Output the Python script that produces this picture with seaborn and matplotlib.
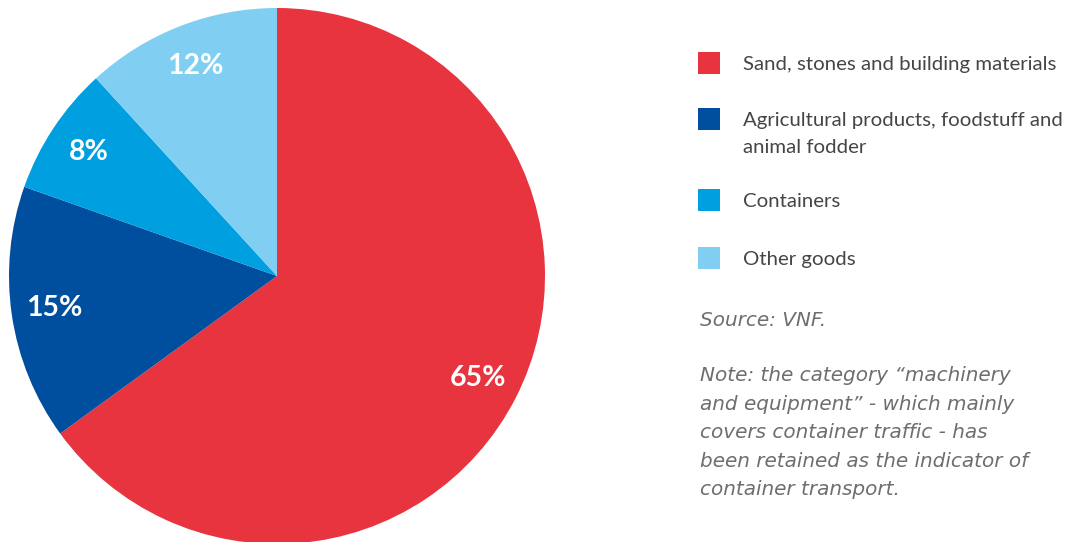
import matplotlib.pyplot as plt
import matplotlib.patches as mpatches
import seaborn as sns

categories = ["Sand, stones and building materials",
              "Agricultural products, foodstuff and\nanimal fodder",
              "Containers",
              "Other goods"]
shares = [65.0, 15.4, 7.8, 11.8]
colors = ["#E7343F", "#004F9E", "#009FE0", "#80CFF3"]

source_text = "Source: VNF."
note_text = ("Note: the category \u201cmachinery\n"
             "and equipment\u201d - which mainly\n"
             "covers container traffic - has\n"
             "been retained as the indicator of\n"
             "container transport.")

sns.set_theme(style="white")
plt.rcParams['font.family'] = ['Lato', 'DejaVu Sans']

W, H = 1076, 542
fig = plt.figure(figsize=(W / 100, H / 100), dpi=100)

# pie axes: centre (277, 276), radius 268 px
cx, cy, r = 277, 276, 268
ax = fig.add_axes([(cx - r) / W, (H - cy - r) / H, 2 * r / W, 2 * r / H])
wedges, texts, autotexts = ax.pie(
    shares, colors=colors, startangle=90, counterclock=False,
    autopct=lambda p: f"{p:.0f}%", pctdistance=0.84,
    wedgeprops=dict(linewidth=0),
    textprops=dict(color="white", fontsize=20.5, fontweight="bold"))
ax.set_xlim(-1, 1)
ax.set_ylim(-1, 1)
ax.set_aspect("equal")
ax.axis("off")

# legend drawn by hand
legend_y = [63, 119, 200, 258]
for lab, col, y in zip(categories, colors, legend_y):
    fig.patches.append(mpatches.Rectangle(
        (698 / W, (H - y - 11) / H), 22 / W, 22 / H,
        transform=fig.transFigure, color=col, linewidth=0))
    fig.text(743 / W, (H - y + 7) / H, lab, fontsize=14.7, color="#454545",
             va="top", ha="left", linespacing=1.72)

note_font = ['DejaVu Sans']
fig.text(700 / W, (H - 321) / H, source_text, fontsize=14.4, color="#6e6e6e",
         style="italic", family=note_font, va="center", ha="left")
fig.text(700 / W, (H - 366) / H, note_text, fontsize=14.4, color="#6e6e6e",
         style="italic", family=note_font, va="top", ha="left",
         linespacing=1.64)

fig.savefig("out.png", dpi=100)
